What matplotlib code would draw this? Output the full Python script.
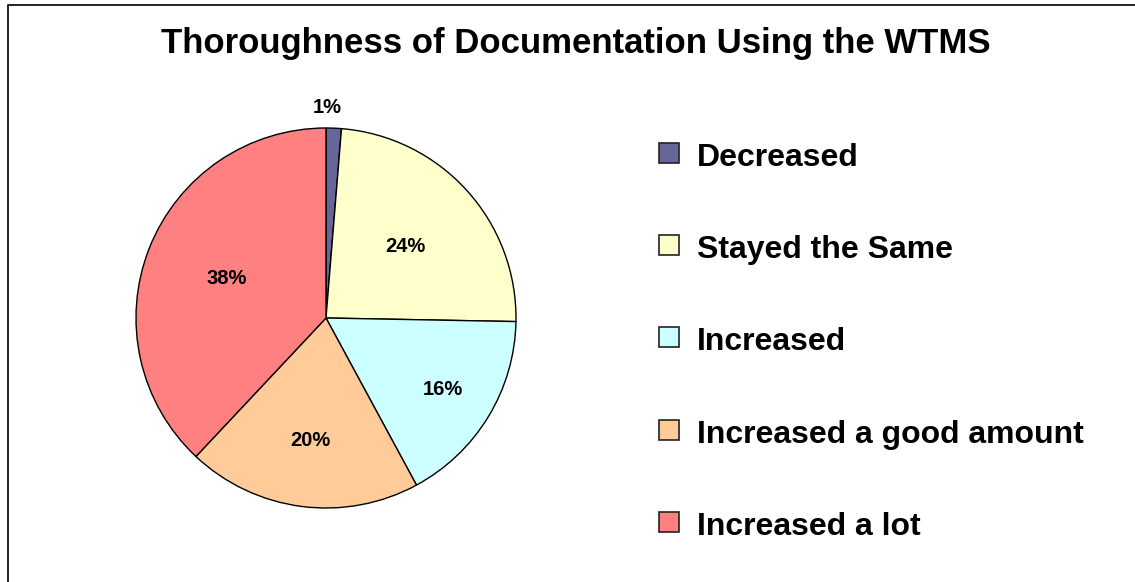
import matplotlib
matplotlib.use("Agg")
import matplotlib.pyplot as plt
from matplotlib.patches import Rectangle
from matplotlib.lines import Line2D
import numpy as np

categories = ["Decreased", "Stayed the Same", "Increased",
              "Increased a good amount", "Increased a lot"]
values = [1.3, 24.0, 16.8, 19.9, 38.0]
pct_labels = ["1%", "24%", "16%", "20%", "38%"]
colors = ["#666699", "#FFFFCC", "#CCFFFF", "#FFCC99", "#FF8080"]
title = "Thoroughness of Documentation Using the WTMS"

W, H = 1135, 582
fig = plt.figure(figsize=(W / 100, H / 100), dpi=100)
plt.rcParams['font.family'] = ['Liberation Sans', 'DejaVu Sans']

def px(x, y):
    return x / W, 1 - y / H

# border (top & left lines)
fig.add_artist(Line2D([8 / W, 8 / W, 1.0], [0.0, 1 - 5 / H, 1 - 5 / H],
                      transform=fig.transFigure, color="#222222", lw=1.4))

# title
tx, ty = px(576, 44)
fig.text(tx, ty, title, ha="center", va="center", fontsize=25,
         fontweight="bold")

# pie axes
cx, cy, r = 326, 318, 190
ax = fig.add_axes([(cx - r) / W, (H - cy - r) / H, 2 * r / W, 2 * r / H])
lab_iter = iter(pct_labels)
wedges, texts, autotexts = ax.pie(
    values, colors=colors, startangle=90, counterclock=False,
    autopct=lambda p: next(lab_iter), pctdistance=0.56, radius=1.0,
    wedgeprops=dict(edgecolor="black", linewidth=1.0),
    textprops=dict(fontsize=14.5, fontweight="bold"))
ax.set_xlim(-1, 1)
ax.set_ylim(-1, 1)
ax.set_aspect("equal")
ax.axis("off")

# per-slice label distances (layout)
label_dist = [1.11, 0.56, 0.72, 0.65, 0.56]
for t, dist in zip(autotexts, label_dist):
    x0, y0 = t.get_position()
    d = np.hypot(x0, y0)
    t.set_position((x0 / d * dist, y0 / d * dist))
x0, y0 = autotexts[0].get_position()
autotexts[0].set_position((x0 - 0.04, y0))

# legend drawn manually
ys = [155, 247, 339, 432, 524]
for lab, col, yy in zip(categories, colors, ys):
    x0f, y0f = px(659, yy + 8)
    fig.add_artist(Rectangle((x0f, y0f), 20 / W, 20 / H,
                             transform=fig.transFigure, facecolor=col,
                             edgecolor="#222222", lw=1.2))
    lx, ly = px(697, yy + 3)
    fig.text(lx, ly, lab, ha="left", va="center", fontsize=23,
             fontweight="bold")

fig.savefig("out.png", dpi=100)
